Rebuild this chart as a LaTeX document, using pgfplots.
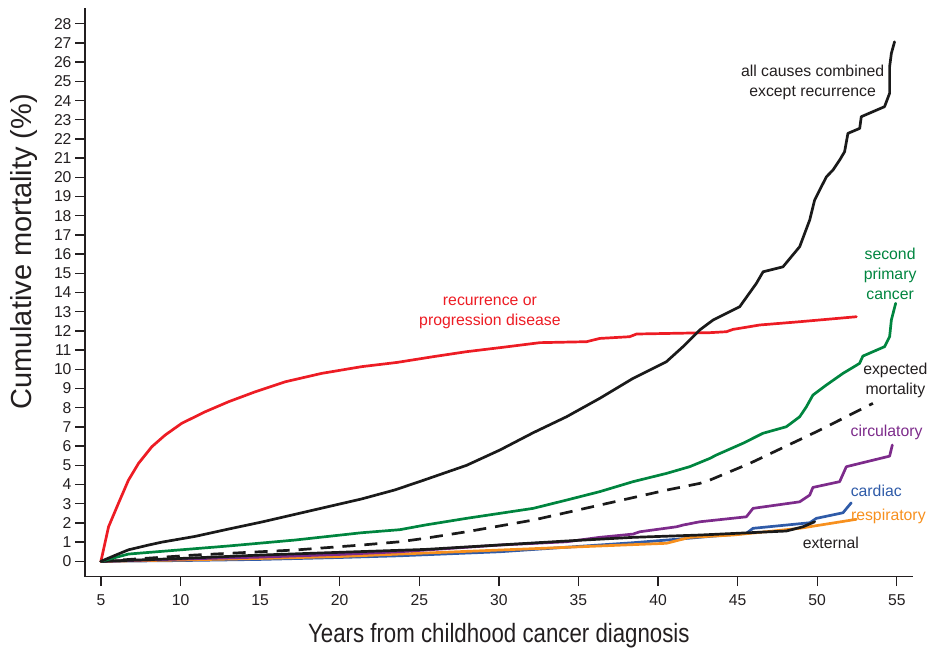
\documentclass[border=0pt]{standalone}
\usepackage{fontspec}
\setmainfont{Liberation Sans}
\newfontfamily\condfont{Liberation Sans}[FakeStretch=0.84]
\usepackage{pgfplots}
\pgfplotsset{compat=1.18}
\definecolor{txt}{HTML}{231F20}
\definecolor{cred}{HTML}{ED1C24}
\definecolor{cgreen}{HTML}{00853F}
\definecolor{cpurple}{HTML}{7D2B8B}
\definecolor{cblue}{HTML}{2F5BA8}
\definecolor{corange}{HTML}{F7901E}
\definecolor{cblack}{HTML}{1A1A1A}
\begin{document}
\begin{tikzpicture}
\begin{axis}[
  scale only axis,
  width=827.7pt, height=568.7pt,
  xmin=4, xmax=56, ymin=-0.8, ymax=28.82,
  axis x line=bottom, axis y line=left,
  axis line style={-, line width=1.4pt, color=txt},
  xtick={5,10,...,55}, ytick={0,1,...,28},
  tick align=outside, major tick length=9.5pt,
  tick style={line width=1.4pt, color=txt},
  /pgf/number format/assume math mode=true,
  ticklabel style={font=\fontsize{15.7}{18}\selectfont, text=txt},
  xticklabel style={yshift=-5pt},
  yticklabel style={xshift=-0.5pt},
  xlabel={Years from childhood cancer diagnosis},
  ylabel={Cumulative mortality (\%)},
  xlabel style={font=\condfont\fontsize{26.5}{30}\selectfont, text=txt, at={(axis description cs:0.5,-0.116)}, anchor=base},
  ylabel style={font=\fontsize{29}{32}\selectfont, text=txt, at={(axis description cs:-0.0644,0.571)}, anchor=base},
  clip=false,
  every axis plot/.append style={line width=2.7pt, line join=round, line cap=round},
]
\coordinate (bl) at (rel axis cs:0,0);
\coordinate (tr) at (rel axis cs:1,1);
% cardiac
\addplot[cblue] coordinates {(5,0) (10,0.04) (15,0.1) (20,0.2) (23.79,0.29) (30.07,0.50) (38.43,0.97) (41.16,1.15) (45.55,1.46) (45.97,1.72) (49.53,2.01) (49.95,2.24) (51.62,2.53) (52.14,3.05)};
% respiratory
\addplot[corange] coordinates {(5,0) (10,0.07) (15,0.15) (20,0.25) (23.79,0.38) (30.07,0.59) (36.34,0.80) (40.53,0.94) (41.99,1.25) (44.71,1.37) (48.90,1.72) (52.46,2.19)};
% circulatory
\addplot[cpurple] coordinates {(5,0) (10,0.12) (15,0.22) (20,0.36) (23.79,0.50) (30.07,0.85) (34.25,1.02) (36.34,1.25) (38.43,1.42) (38.85,1.54) (41.16,1.80) (41.57,1.89) (42.62,2.06) (45.55,2.32) (45.97,2.76) (48.90,3.10) (49.53,3.45) (49.73,3.85) (51.41,4.15) (51.83,4.93) (54.55,5.48) (54.72,6.06)};
% external
\addplot[cblack] coordinates {(5,0) (10,0.15) (15.11,0.33) (20,0.47) (25.36,0.62) (30,0.85) (34.25,1.06) (38.43,1.25) (42.62,1.37) (48.06,1.58) (49.10,1.80) (49.84,2.06)};
% expected mortality
\addplot[cblack, dash pattern=on 13pt off 9pt, line cap=butt] coordinates {(5,0) (10.92,0.33) (17.20,0.59) (21.38,0.85) (23.79,1.02) (25.36,1.20) (27.97,1.54) (32.16,2.15) (36.34,2.93) (40.53,3.71) (42.62,4.06) (43.25,4.23) (45.76,5.10) (49.95,6.75) (53.50,8.23)};
% second primary cancer
\addplot[cgreen] coordinates {(5,0) (6.73,0.38) (9.87,0.59) (13.01,0.80) (17.20,1.11) (21.38,1.49) (23.79,1.65) (25.36,1.89) (27.97,2.24) (32.16,2.76) (34.25,3.19) (36.34,3.63) (38.43,4.15) (40.53,4.58) (41.99,4.93) (43.25,5.36) (43.67,5.54) (45.34,6.15) (46.59,6.67) (48.06,7.01) (48.90,7.53) (49.32,8.05) (49.73,8.66) (50.57,9.18) (51.62,9.79) (52.66,10.31) (52.87,10.69) (54.23,11.18) (54.55,11.70) (54.66,12.57) (54.93,13.44)};
% recurrence
\addplot[cred] coordinates {(5,0) (5.48,1.80) (6.10,3.02) (6.73,4.23) (7.36,5.10) (8.20,5.97) (9.04,6.58) (10.08,7.19) (11.55,7.79) (13.01,8.31) (14.69,8.83) (16.57,9.35) (18.87,9.79) (21.38,10.14) (23.6,10.36) (25.88,10.66) (27.97,10.92) (30.07,11.13) (32.58,11.39) (35.51,11.44) (36.34,11.61) (38.22,11.70) (38.65,11.84) (43.25,11.91) (44.30,11.96) (44.71,12.08) (46.39,12.31) (48.90,12.48) (52.46,12.74)};
% all causes except recurrence
\addplot[cblack] coordinates {(5,0) (6,0.35) (6.73,0.6) (8,0.85) (8.83,1.0) (10.92,1.3) (13.01,1.68) (15.11,2.05) (17.20,2.45) (19.29,2.85) (21.38,3.25) (23.47,3.72) (25.36,4.25) (25.88,4.40) (27.97,5.0) (30.07,5.80) (32.16,6.70) (34.25,7.53) (36.34,8.49) (38.43,9.53) (40.53,10.40) (41.57,11.18) (42.62,12.05) (43.46,12.57) (45.13,13.26) (46.18,14.48) (46.60,15.08) (47.85,15.34) (48.90,16.39) (49.53,17.78) (49.84,18.82) (50.26,19.51) (50.58,20.03) (50.99,20.38) (51.41,20.90) (51.72,21.33) (51.93,22.29) (52.67,22.55) (52.77,23.16) (54.23,23.68) (54.55,24.38) (54.55,25.76) (54.66,26.46) (54.86,27.06)};
% labels
\begin{scope}[every node/.style={font=\fontsize{15.8}{20}\selectfont, align=center, inner sep=0pt}]
\node[text=txt] at (axis cs:49.71,24.96) {all causes combined\\except recurrence};
\node[text=cred] at (axis cs:29.44,12.93) {recurrence or\\progression disease};
\node[text=cgreen] at (axis cs:54.58,14.96) {second\\primary\\cancer};
\node[text=txt] at (axis cs:54.91,9.44) {expected\\mortality};
\node[text=cpurple] at (axis cs:54.36,6.70) {circulatory};
\node[text=cblue] at (axis cs:53.71,3.66) {cardiac};
\node[text=corange] at (axis cs:54.47,2.36) {respiratory};
\node[text=txt] at (axis cs:50.86,0.94) {external};
\end{scope}
\end{axis}
\pgfresetboundingbox
\path ([shift={(-85pt,-77.3pt)}]bl) rectangle ([shift={(21.3pt,8pt)}]tr);
\end{tikzpicture}
\end{document}
